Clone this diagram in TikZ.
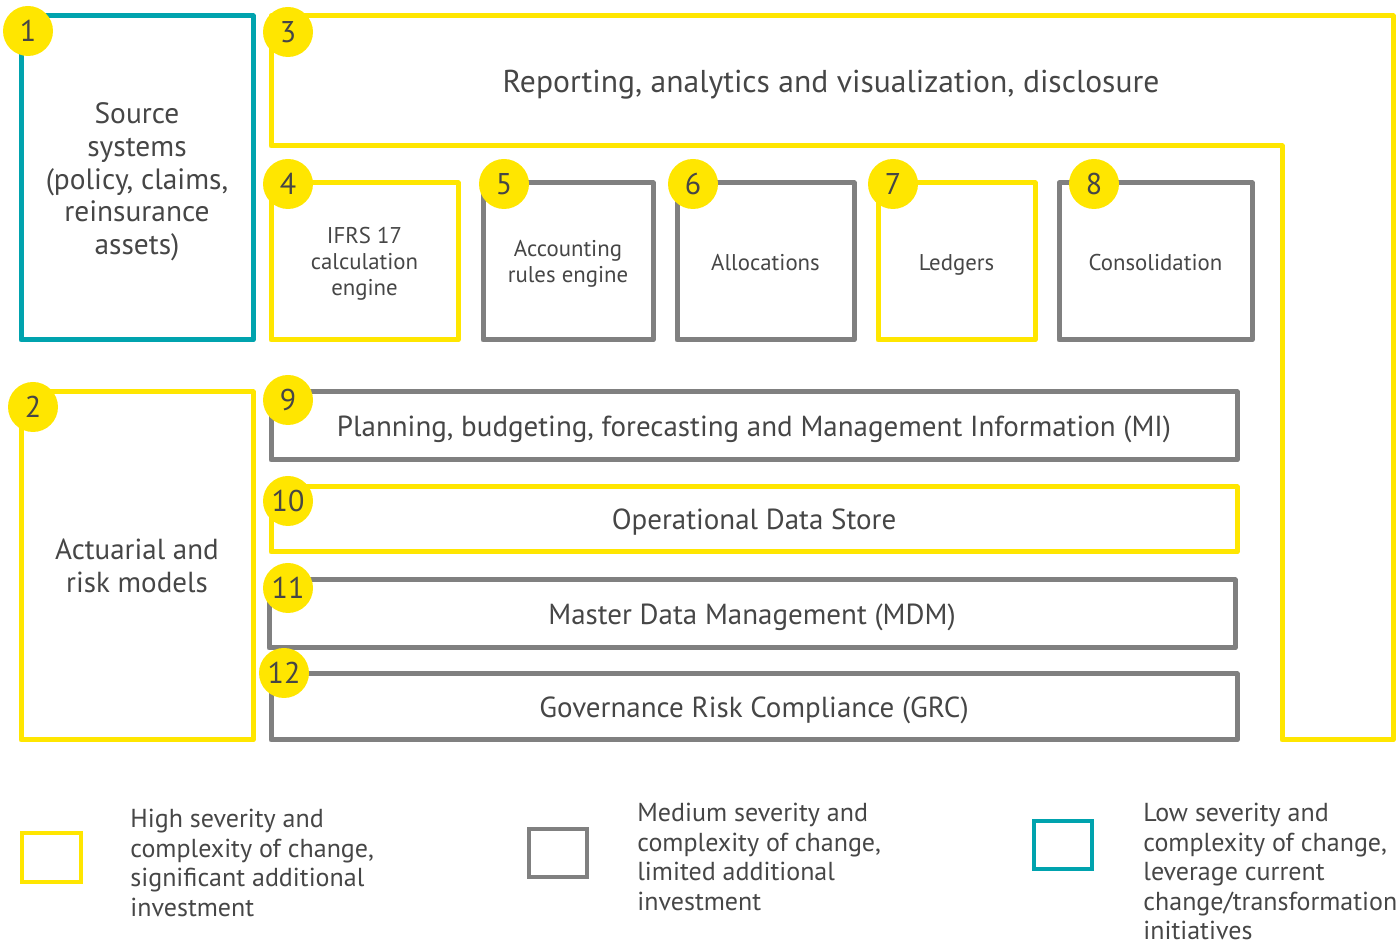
\documentclass[tikz,border=0pt]{standalone}
\usepackage{fontspec}
\setmainfont{PT Sans}
\definecolor{eyyellow}{RGB}{255,230,0}
\definecolor{eygray}{RGB}{128,128,128}
\definecolor{eyteal}{RGB}{0,163,174}
\definecolor{txt}{RGB}{70,70,70}
\begin{document}
\begin{tikzpicture}[x=0.5pt,y=-0.5pt,
  box/.style={draw, line width=2.5pt, inner sep=0pt, text=txt, align=center, line join=round},
  ybox/.style={box, draw=eyyellow},
  gbox/.style={box, draw=eygray},
  tbox/.style={box, draw=eyteal},
  num/.style={circle, fill=eyyellow, minimum size=25pt, inner sep=0pt, text=txt, font=\fontsize{15}{15}\selectfont},
  big/.style={font=\fontsize{14.5}{16}\selectfont, text height=10.5pt, text depth=0pt},
  small/.style={font=\fontsize{11.4}{13}\selectfont},
  smallone/.style={small, text height=9pt, text depth=0pt},
  lab/.style={text=txt, align=center, inner sep=0pt},
  legsq/.style={draw, line width=2pt, inner sep=0pt},
  legtxt/.style={anchor=north west, inner sep=0pt, align=left, text=txt, font=\fontsize{13}{14.75}\selectfont}]
\useasboundingbox (0,0) rectangle (1399,940);
% box 3 (L-shaped)
\draw[eyyellow, line width=2.5pt, line join=round] (271,16) -- (1393,16) -- (1393,740) -- (1282,740) -- (1282,146) -- (271,146) -- cycle;
\node[text=txt, inner sep=0pt, text height=13pt, text depth=0pt, font=\fontsize{15.8}{17}\selectfont] (t3) at (831,80) {Reporting, analytics and visualization, disclosure};
% boxes
\node[tbox, minimum width=116pt, minimum height=162pt,
  label={[lab, name=b1t, yshift=-2pt, font=\fontsize{14.7}{16.35}\selectfont]center:{Source\\systems\\(policy, claims,\\reinsurance\\assets)}}] (b1) at (137,178) {};
\node[ybox, minimum width=116pt, minimum height=174pt, font=\fontsize{14.5}{16.5}\selectfont] (b2) at (137,566) {Actuarial and\\risk models};
\node[ybox, minimum width=93.5pt, minimum height=78.5pt,
  label={[lab, name=b4t, yshift=-1.2pt, small]center:{IFRS 17\\calculation\\engine}}] (b4) at (364.5,261.5) {};
\node[gbox, minimum width=85pt, minimum height=78.5pt,
  label={[lab, name=b5t, yshift=-1pt, small]center:{Accounting\\rules engine}}] (b5) at (568,261.5) {};
\node[gbox, smallone, minimum width=88.5pt, minimum height=78.5pt] (b6) at (765.5,261.5) {Allocations};
\node[ybox, smallone, minimum width=78.5pt, minimum height=78.5pt] (b7) at (956.5,261.5) {Ledgers};
\node[gbox, smallone, minimum width=96.5pt, minimum height=78.5pt] (b8) at (1155.5,261.5) {Consolidation};
\node[gbox, big, minimum width=483pt, minimum height=34pt] (b9) at (754,426) {Planning, budgeting, forecasting and Management Information (MI)};
\node[ybox, big, minimum width=483pt, minimum height=32.5pt] (b10) at (754,519.5) {Operational Data Store};
\node[gbox, big, minimum width=483pt, minimum height=34pt] (b11) at (752,614) {Master Data Management (MDM)};
\node[gbox, big, minimum width=483pt, minimum height=33pt] (b12) at (754,707) {Governance Risk Compliance (GRC)};
% numbers
\node[num] (n1) at (28,31) {1};
\node[num] (n2) at (33,407) {2};
\node[num] (n3) at (288,32) {3};
\node[num] (n4) at (288,184) {4};
\node[num] (n5) at (504,184) {5};
\node[num] (n6) at (693,184) {6};
\node[num] (n7) at (893,184) {7};
\node[num] (n8) at (1094,184) {8};
\node[num] (n9) at (288,400) {9};
\node[num] (n10) at (288,501) {10};
\node[num] (n11) at (288,588) {11};
\node[num] (n12) at (284,673) {12};
% legend
\node[legsq, draw=eyyellow, minimum width=29.5pt, minimum height=24.5pt] (l1) at (51.5,857.5) {};
\node[legsq, draw=eygray, minimum width=29pt, minimum height=24pt] (l2) at (558,853) {};
\node[legsq, draw=eyteal, minimum width=29pt, minimum height=24pt] (l3) at (1063,845) {};
\node[legtxt] (lt1) at (130,809) {High severity and\\complexity of change,\\significant additional\\investment};
\node[legtxt] (lt2) at (637,803) {Medium severity and\\complexity of change,\\limited additional\\investment};
\node[legtxt] (lt3) at (1143,803) {Low severity and\\complexity of change,\\leverage current\\change/transformation\\initiatives};
\end{tikzpicture}
\end{document}
